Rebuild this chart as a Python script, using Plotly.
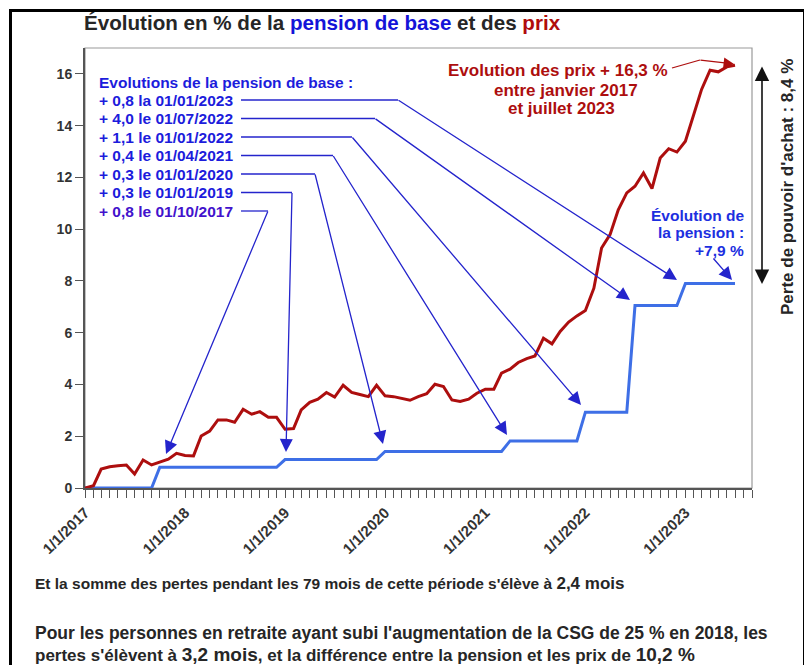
import plotly.graph_objects as go
import pandas as pd

# ---------------- data ----------------
months = pd.date_range("2017-01-01", "2023-07-01", freq="MS")

prix = [0.00, 0.09, 0.73, 0.82, 0.86, 0.89, 0.54, 1.08, 0.89, 1.00, 1.11, 1.34,
        1.26, 1.24, 2.01, 2.20, 2.63, 2.63, 2.54, 3.04, 2.85, 2.95, 2.73, 2.73,
        2.27, 2.30, 3.02, 3.31, 3.43, 3.69, 3.51, 3.97, 3.69, 3.61, 3.53, 3.97,
        3.56, 3.53, 3.46, 3.39, 3.53, 3.64, 4.01, 3.92, 3.40, 3.34, 3.43, 3.66,
        3.82, 3.82, 4.44, 4.59, 4.85, 5.00, 5.10, 5.79, 5.57, 6.05, 6.41, 6.65,
        6.86, 7.72, 9.27, 9.79, 10.75, 11.40, 11.66, 12.17, 11.57, 12.75, 13.11, 12.98,
        13.40, 14.50, 15.40, 16.14, 16.08, 16.27, 16.33]

pension = [0, 0, 0, 0, 0, 0, 0, 0, 0, 0.8, 0.8, 0.8,
           0.8, 0.8, 0.8, 0.8, 0.8, 0.8, 0.8, 0.8, 0.8, 0.8, 0.8, 0.8,
           1.1, 1.1, 1.1, 1.1, 1.1, 1.1, 1.1, 1.1, 1.1, 1.1, 1.1, 1.1,
           1.41, 1.41, 1.41, 1.41, 1.41, 1.41, 1.41, 1.41, 1.41, 1.41, 1.41, 1.41,
           1.41, 1.41, 1.41, 1.82, 1.82, 1.82, 1.82, 1.82, 1.82, 1.82, 1.82, 1.82,
           2.93, 2.93, 2.93, 2.93, 2.93, 2.93, 7.05, 7.05, 7.05, 7.05, 7.05, 7.05,
           7.9, 7.9, 7.9, 7.9, 7.9, 7.9, 7.9]

x_tickvals = ["2017-01-01", "2018-01-01", "2019-01-01", "2020-01-01",
              "2021-01-01", "2022-01-01", "2023-01-01"]
x_ticktext = ["1/1/2017", "1/1/2018", "1/1/2019", "1/1/2020",
              "1/1/2021", "1/1/2022", "1/1/2023"]
y_tickvals = [0, 2, 4, 6, 8, 10, 12, 14, 16]

revalo_labels = ["+ 0,8 la 01/01/2023", "+ 4,0 le 01/07/2022", "+ 1,1 le 01/01/2022",
                 "+ 0,4 le 01/04/2021", "+ 0,3 le 01/01/2020", "+ 0,3 le 01/01/2019",
                 "+ 0,8 le 01/10/2017"]

# ---------------- layout helpers ----------------
OFF = 8                      # page body margin
W, H = 812 - OFF, 665 - OFF  # figure size
L, R, T, B = 85, 752, 48, 488  # plot area in screen pixels
FONT = "Arial, Liberation Sans, sans-serif"
RED = "#ad0e0e"
BLUE_LINE = "#3e6fe6"
BLUE_TXT = "#1c1cdc"
ARROW_BLUE = "#2424cc"
DARK = "#262626"


def fx(x):
    return (x - L) / (R - L)


def fy(y):
    return (B - y) / (B - T)


fig = go.Figure()

fig.add_trace(go.Scatter(x=months, y=pension, mode="lines",
                         line=dict(color=BLUE_LINE, width=3), hoverinfo="skip",
                         name="pension"))
fig.add_trace(go.Scatter(x=months, y=prix, mode="lines",
                         line=dict(color=RED, width=3), hoverinfo="skip",
                         name="prix"))

shapes = []
annotations = []


def text(t, x, y, size=15, color=DARK, xanchor="left", yanchor="middle",
         align="left", angle=0):
    annotations.append(dict(text=t, x=fx(x), y=fy(y), xref="paper", yref="paper",
                            showarrow=False, xanchor=xanchor, yanchor=yanchor,
                            align=align, textangle=angle,
                            font=dict(family=FONT, size=size, color=color)))


def seg(x0, y0, x1, y1, color=ARROW_BLUE, width=1.3):
    shapes.append(dict(type="line", xref="paper", yref="paper",
                       x0=fx(x0), y0=fy(y0), x1=fx(x1), y1=fy(y1),
                       line=dict(color=color, width=width)))


def arrow(tail, tip, color=ARROW_BLUE, width=1.3, size=2.0, side="end", head=2):
    annotations.append(dict(text="", x=fx(tip[0]), y=fy(tip[1]), xref="paper",
                            yref="paper", ax=tail[0] - tip[0], ay=tail[1] - tip[1],
                            axref="pixel", ayref="pixel", showarrow=True,
                            arrowhead=head, startarrowhead=head, arrowside=side,
                            arrowsize=size, startarrowsize=size,
                            arrowwidth=width, arrowcolor=color, borderpad=0,
                            standoff=0, startstandoff=0))


# outer frame
shapes.append(dict(type="rect", xref="paper", yref="paper",
                   x0=fx(10.5), x1=fx(804.5), y0=fy(680), y1=fy(10.5),
                   line=dict(color="black", width=3), layer="below"))
# plot frame (light grey)
shapes.append(dict(type="rect", xref="paper", yref="paper", x0=0, x1=1, y0=0, y1=1,
                   line=dict(color="#9a9a9a", width=1.2), layer="below"))

# title
text("<b>Évolution en % de la <span style='color:#1414d8'>pension de base</span>"
     " et des <span style='color:#b00c0c'>prix</span></b>", 82, 23, size=20.6)

# revaluation list
text("<b>Evolutions de la pension de base :</b>", 97, 82, size=15.5, color=BLUE_TXT)
rows_y = [100, 118.5, 137, 155.5, 174, 192.5, 211]
elbows = [398, 375, 352, 333, 315, 292, 268]
tips = [(677, 280), (630, 300), (581, 405), (507, 435), (383, 444), (286, 452), (166, 454)]
row_colors = [BLUE_TXT] * 6 + ["#4212cc"]
for lab, yy, ex, tp, col in zip(revalo_labels, rows_y, elbows, tips, row_colors):
    text("<b>" + lab + "</b>", 97, yy, size=15.5, color=col)
    seg(241, yy, ex, yy)
    arrow((ex, yy), tp)

# price annotation
text("<b>Evolution des prix + 16,3 %</b>", 558, 71, size=17, color=RED, xanchor="center")
text("<b>entre janvier 2017</b>", 566, 90, size=17, color=RED, xanchor="center")
text("<b>et juillet 2023</b>", 561, 108.5, size=17, color=RED, xanchor="center")
seg(672, 68, 700, 60, color=RED, width=1.3)
arrow((700, 60), (734, 64), color=RED, width=1.3, size=1.6)

# pension annotation
text("<b>Évolution de</b>", 746, 215, size=15.5, color="#1c2fe0", xanchor="right")
text("<b>la pension :</b>", 746, 233, size=15.5, color="#1c2fe0", xanchor="right")
text("<b>+7,9 %</b>", 746, 250.5, size=15.5, color="#1c2fe0", xanchor="right")
arrow((713, 258), (732, 280), color=ARROW_BLUE, width=1.3, size=2.0)

# loss of purchasing power
arrow((762, 66), (762, 284), color="#111111", width=1.6, size=1.8, side="end+start")
text("<b>Perte de pouvoir d'achat : 8,4 %</b>", 787, 187, size=17, color=DARK,
     xanchor="center", yanchor="middle", angle=-90)

# bottom texts
text("<b>Et la somme des pertes pendant les 79 mois de cette période s'élève à "
     "<span style='font-size:17px'>2,4 mois</span></b>", 33, 583, size=15.5)
text("<b>Pour les personnes en retraite ayant subi l'augmentation de la CSG de 25 % "
     "en 2018, les</b>", 33, 633, size=17.5)
text("<b>pertes s'élèvent à <span style='font-size:19px'>3,2 mois</span>, et la "
     "différence entre la pension et les prix de "
     "<span style='font-size:19px'>10,2 %</span></b>", 33, 654, size=17)

tickfont = dict(family=FONT, size=14, color="#333333", weight="bold")

fig.update_layout(
    width=W, height=H,
    margin=dict(l=L - OFF, r=W - (R - OFF), t=T - OFF, b=H - (B - OFF), pad=0),
    paper_bgcolor="white", plot_bgcolor="white",
    showlegend=False,
    shapes=shapes, annotations=annotations,
    xaxis=dict(type="date", range=["2017-01-01", "2023-09-01"],
               tickvals=x_tickvals, ticktext=x_ticktext, tickangle=-45,
               ticks="outside", ticklen=8, tickwidth=1.3, tickcolor="#555555",
               minor=dict(dtick="M1", tick0="2017-01-01", ticks="outside",
                          ticklen=8, tickwidth=1.3, tickcolor="#555555",
                          showgrid=False),
               showgrid=False, zeroline=False, showline=True,
               linecolor="#555555", linewidth=2,
               tickfont=dict(family=FONT, size=15, color="#333333", weight="bold"),
               fixedrange=True),
    yaxis=dict(range=[0, 17], tickvals=y_tickvals, ticks="outside", ticklen=8,
               tickwidth=1.3, tickcolor="#555555",
               showgrid=False, zeroline=False, showline=True,
               linecolor="#555555", linewidth=2,
               tickfont=tickfont,
               fixedrange=True),
)

fig.write_html("out.html")
